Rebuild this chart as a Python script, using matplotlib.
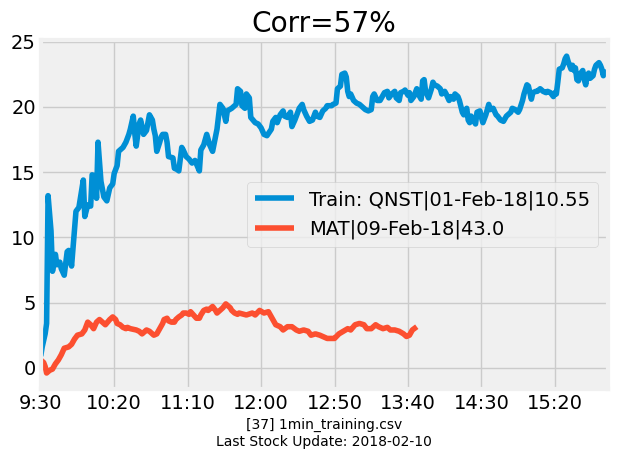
import matplotlib
matplotlib.use("Agg")
import matplotlib.pyplot as plt

plt.style.use("fivethirtyeight")

# minutes since 9:30 and price change
train_min = [0, 1, 3, 4, 5, 7, 8, 10, 11, 13, 14, 16, 18, 19, 21, 24, 26, 29, 30, 32,
             34, 35, 37, 38, 39, 41, 43, 45, 47, 49, 50, 52, 53, 56, 58, 60, 61, 63, 64, 65,
             67, 68, 69, 70, 72, 73, 74, 76, 77, 78, 79, 81, 82, 83, 85, 86, 87, 90, 91, 93,
             94, 96, 97, 99, 101, 103, 105, 108, 109, 111, 113, 115, 117, 120, 122, 124, 126, 127, 130, 133,
             134, 136, 137, 139, 140, 142, 143, 146, 148, 150, 152, 154, 157, 158, 160, 161, 163, 165, 166, 168,
             170, 171, 173, 176, 178, 179, 181, 183, 185, 187, 188, 190, 192, 194, 195, 198, 199, 201, 202, 204,
             205, 207, 208, 209, 210, 211, 213, 215, 217, 218, 221, 223, 225, 226, 227, 229, 231, 232, 234, 236,
             237, 239, 241, 242, 244, 245, 247, 248, 250, 251, 252, 254, 256, 257, 259, 260, 261, 262, 264, 266,
             267, 268, 270, 272, 273, 275, 276, 278, 279, 281, 282, 284, 285, 287, 288, 290, 291, 292, 293, 295,
             296, 297, 299, 300, 301, 303, 305, 306, 308, 310, 311, 313, 315, 317, 318, 320, 321, 323, 325, 326,
             328, 329, 331, 332, 334, 335, 337, 338, 340, 342, 344, 345, 347, 349, 350, 351, 352, 353, 355, 356,
             357, 358, 359, 361, 362, 363, 364, 365, 366, 367, 369, 370, 371, 372, 373, 374, 376, 377, 378, 379,
             380, 381, 382, 383, 384]
train_val = [0.9, 1.6, 2.6, 3.4, 13.2, 10.5, 7.4, 8.7, 7.9, 8.1, 7.6, 7.1, 8.9, 9.0, 7.8, 12.0, 12.3, 14.4, 11.6, 12.5,
             12.4, 14.8, 14.7, 13.0, 17.3, 14.3, 13.1, 12.8, 13.8, 14.1, 14.9, 15.5, 16.6, 16.9, 17.3, 17.9, 18.3, 19.3, 18.0, 17.0,
             18.7, 19.0, 18.5, 17.9, 18.2, 18.8, 19.4, 19.0, 18.3, 17.8, 16.6, 17.3, 17.7, 17.9, 17.9, 17.3, 16.2, 16.1, 15.3, 15.2,
             15.1, 16.9, 16.7, 16.2, 16.0, 15.7, 15.9, 15.1, 16.7, 17.1, 17.9, 17.1, 16.6, 18.3, 20.2, 19.9, 18.9, 19.7, 19.9, 20.2,
             21.4, 21.2, 20.1, 19.9, 21.0, 20.7, 19.2, 18.8, 18.7, 18.4, 17.9, 17.8, 18.3, 18.9, 19.2, 18.8, 19.4, 19.7, 19.3, 19.2,
             19.6, 18.5, 19.0, 19.9, 20.2, 19.8, 19.3, 18.9, 19.0, 19.6, 19.3, 19.2, 19.7, 19.9, 20.1, 20.1, 20.2, 20.3, 21.4, 21.6,
             22.5, 22.6, 22.3, 21.2, 20.8, 21.0, 20.5, 20.3, 20.2, 20.1, 19.8, 19.7, 19.8, 20.8, 21.0, 20.5, 20.5, 20.7, 21.1, 21.2,
             20.7, 21.0, 21.2, 20.7, 20.5, 21.1, 21.2, 21.3, 20.9, 21.1, 20.5, 20.8, 21.4, 21.0, 20.6, 22.0, 22.1, 21.2, 20.7, 21.4,
             21.9, 21.7, 21.6, 21.4, 21.0, 21.2, 21.0, 20.5, 20.8, 20.6, 21.0, 20.8, 20.5, 19.6, 19.4, 19.9, 19.0, 18.8, 19.3, 18.9,
             18.7, 19.6, 19.7, 19.2, 18.8, 19.4, 20.2, 19.8, 19.9, 19.4, 19.3, 19.0, 18.9, 19.3, 19.4, 19.6, 19.9, 19.8, 19.6, 19.8,
             20.5, 21.0, 21.7, 21.6, 20.6, 21.1, 21.2, 21.2, 21.4, 21.2, 21.1, 21.2, 21.1, 20.8, 21.1, 21.0, 21.9, 22.9, 23.0, 23.3,
             23.7, 23.9, 23.5, 22.9, 23.2, 22.8, 23.0, 22.1, 22.0, 22.5, 22.8, 22.1, 21.7, 22.4, 22.6, 22.2, 22.4, 22.9, 23.2, 23.3,
             23.4, 23.2, 22.9, 22.4, 22.9]

mat_min = [0, 2, 3, 4, 6, 8, 10, 12, 14, 16, 19, 21, 23, 25, 28, 30, 32, 34, 36, 38,
           40, 42, 44, 47, 49, 51, 52, 54, 56, 58, 59, 61, 63, 65, 67, 69, 71, 72, 74, 76,
           77, 79, 81, 83, 84, 86, 87, 89, 91, 92, 94, 96, 97, 99, 101, 102, 104, 106, 108, 109,
           111, 113, 114, 116, 117, 119, 120, 122, 124, 126, 127, 129, 130, 132, 134, 135, 140, 144, 146, 149,
           152, 155, 157, 160, 163, 165, 168, 171, 174, 176, 179, 182, 184, 187, 190, 192, 195, 198, 200, 203,
           206, 209, 211, 214, 217, 220, 222, 225, 228, 230, 233, 236, 238, 241, 244, 247, 249, 251, 253, 256]
mat_val = [0.6, 0.4, 0.1, -0.4, -0.2, -0.1, 0.3, 0.6, 1.0, 1.5, 1.6, 1.8, 2.2, 2.5, 2.6, 2.9, 3.5, 3.3, 3.0, 3.5,
           3.7, 3.5, 3.3, 3.7, 3.9, 3.7, 3.4, 3.3, 3.1, 3.0, 3.1, 3.0, 2.95, 2.9, 2.8, 2.6, 2.8, 2.9, 2.8, 2.6,
           2.5, 2.6, 3.0, 3.4, 3.7, 3.8, 3.6, 3.5, 3.5, 3.7, 3.9, 4.05, 4.2, 4.2, 4.1, 4.3, 4.05, 3.8, 3.8, 4.05,
           4.4, 4.5, 4.4, 4.6, 4.7, 4.4, 4.2, 4.4, 4.6, 4.9, 4.8, 4.6, 4.4, 4.2, 4.1, 4.2, 4.05, 4.2, 4.05, 4.4,
           4.2, 4.3, 3.9, 3.3, 3.15, 2.9, 3.15, 3.15, 2.9, 2.8, 2.9, 2.8, 2.5, 2.6, 2.5, 2.4, 2.25, 2.25, 2.25, 2.6,
           2.8, 3.0, 2.9, 3.3, 3.4, 3.3, 3.0, 3.0, 3.3, 3.15, 3.0, 3.1, 2.9, 2.9, 2.8, 2.6, 2.4, 2.5, 2.9, 3.15]

tick_pos = [0, 50, 100, 150, 200, 250, 300, 350]
tick_labels = ["9:30", "10:20", "11:10", "12:00", "12:50", "13:40", "14:30", "15:20"]

fig = plt.figure(figsize=(6.17, 4.58), dpi=100, facecolor="white")
ax = fig.add_subplot(111)
fig.subplots_adjust(left=0.066, right=0.985, top=0.912, bottom=0.151)

ax.plot(train_min, train_val, label="Train: QNST|01-Feb-18|10.55")
ax.plot(mat_min, mat_val, label="MAT|09-Feb-18|43.0")

ax.set_xlim(0, 386)
ax.set_xticks(tick_pos)
ax.set_xticklabels(tick_labels)
ax.set_yticks([0, 5, 10, 15, 20, 25])
ax.set_title("Corr=57%")
ax.set_xlabel("[37] 1min_training.csv\nLast Stock Update: 2018-02-10", fontsize=10)
ax.legend(loc="center right")

fig.savefig("out.png", dpi=100, facecolor="white")
